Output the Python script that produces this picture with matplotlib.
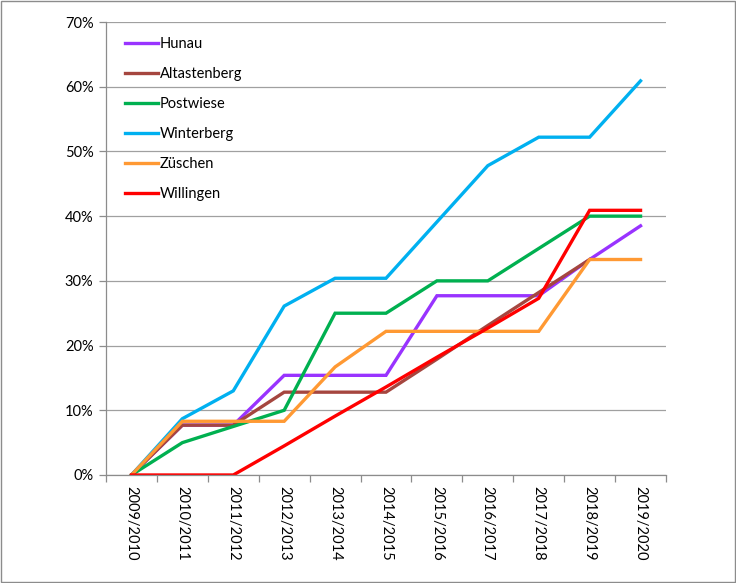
import matplotlib.pyplot as plt
from matplotlib.ticker import FuncFormatter, FixedLocator

plt.rcParams['font.family'] = ['Lato', 'DejaVu Sans']

# --- Daten (Anteil in %) ---
seasons = ["2009/2010", "2010/2011", "2011/2012", "2012/2013", "2013/2014", "2014/2015",
           "2015/2016", "2016/2017", "2017/2018", "2018/2019", "2019/2020"]

hunau = [0, 7.7, 7.7, 15.4, 15.4, 15.4, 27.7, 27.7, 27.7, 33.3, 38.5]
altastenberg = [0, 7.7, 7.7, 12.8, 12.8, 12.8, 17.9, 23.1, 28.2, 33.3, None]
postwiese = [0, 5.0, 7.5, 10.0, 25.0, 25.0, 30.0, 30.0, 35.0, 40.0, 40.0]
winterberg = [0, 8.7, 13.0, 26.1, 30.4, 30.4, 39.1, 47.8, 52.2, 52.2, 60.9]
zueschen = [0, 8.3, 8.3, 8.3, 16.7, 22.2, 22.2, 22.2, 22.2, 33.3, 33.3]
willingen = [0, 0, 0, 4.5, 9.1, 13.6, 18.2, 22.7, 27.3, 40.9, 40.9]

series = [("Hunau", hunau, "#9933FF"),
          ("Altastenberg", altastenberg, "#A5463F"),
          ("Postwiese", postwiese, "#00B050"),
          ("Winterberg", winterberg, "#00B0F0"),
          ("Züschen", zueschen, "#FF9933"),
          ("Willingen", willingen, "#FF0000")]

fig = plt.figure(figsize=(7.36, 5.83), dpi=100)
ax = fig.add_axes([106 / 736, 1 - 475 / 583, 560 / 736, 453 / 583])

x = list(range(len(seasons)))
for name, vals, col in series:
    xs = [i for i, v in zip(x, vals) if v is not None]
    ys = [v for v in vals if v is not None]
    ax.plot(xs, ys, color=col, lw=2.4, label=name, solid_joinstyle='miter')

ax.set_xlim(-0.5, len(seasons) - 0.5)
ax.set_ylim(0, 70)
ax.set_yticks(range(0, 71, 10))
ax.yaxis.set_major_formatter(FuncFormatter(lambda v, p: f"{v:.0f}%"))
ax.grid(axis='y', color='#A0A0A0', lw=0.9)
ax.set_axisbelow(True)

ax.set_xticks(x)
ax.set_xticklabels(seasons, rotation=270, fontsize=10.5)
ax.tick_params(axis='x', length=0, pad=8)
ax.xaxis.set_minor_locator(FixedLocator([i - 0.5 for i in range(len(seasons) + 1)]))
ax.tick_params(axis='x', which='minor', length=5, color='#8C8C8C', width=0.9)
ax.tick_params(axis='y', length=5, color='#8C8C8C', width=0.9, labelsize=10.5, pad=4)

for s in ['top', 'right']:
    ax.spines[s].set_visible(False)
for s in ['left', 'bottom']:
    ax.spines[s].set_color('#8C8C8C')
    ax.spines[s].set_linewidth(0.9)

ax.legend(loc='upper left', bbox_to_anchor=(0.01, 0.996), frameon=False,
          fontsize=10.5, handlelength=2.3, handletextpad=0.1, labelspacing=1.1)

# Rahmen um die Grafik
fig.patches.append(plt.Rectangle((0.001, 0.001), 0.998, 0.998, transform=fig.transFigure,
                                 fill=False, edgecolor='#8C8C8C', lw=1))

fig.savefig("out.png", dpi=100)
